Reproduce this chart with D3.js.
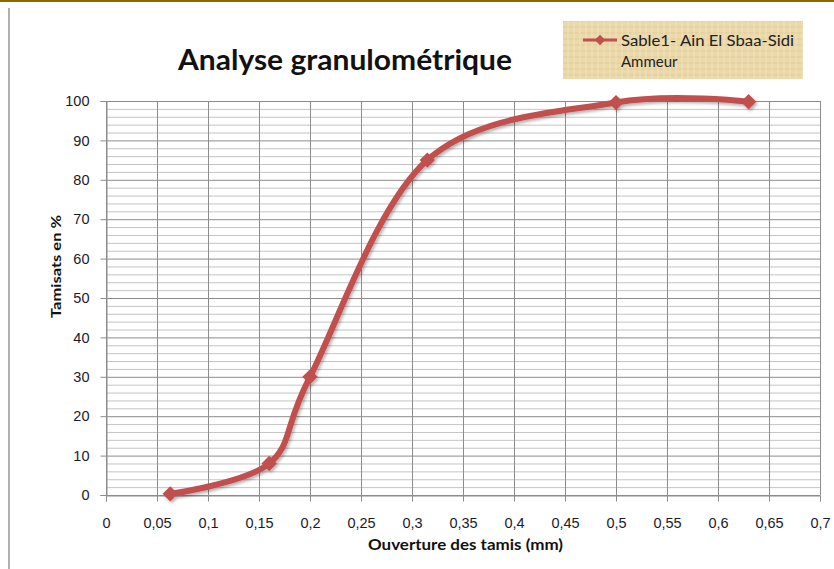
<!DOCTYPE html>
<html><head><meta charset="utf-8">
<script src="https://cdn.jsdelivr.net/npm/d3@7"></script>
<style>html,body{margin:0;padding:0;background:#fff;}svg{display:block;font-family:Lato,"Open Sans",sans-serif;}</style>
</head><body>
<svg id="c" width="834" height="569"></svg>
<script>
const sieveOpenings = [0.063, 0.16, 0.2, 0.315, 0.5, 0.63];
const passingPercent = [0.3, 8, 30, 85, 99.6, 99.8];
const xTicks = [0,0.05,0.1,0.15,0.2,0.25,0.3,0.35,0.4,0.45,0.5,0.55,0.6,0.65,0.7];
const yTicks = [0,10,20,30,40,50,60,70,80,90,100];
const yMinor = d3.range(0, 101, 2);
const seriesName = ["Sable1- Ain El Sbaa-Sidi", "Ammeur"];
const titleText = "Analyse granulométrique";
const xLabel = "Ouverture des tamis (mm)";
const yLabel = "Tamisats  en %";

const svg = d3.select("#c");
const defs = svg.append("defs");
const pat = defs.append("pattern").attr("id","pap").attr("width",12).attr("height",12).attr("patternUnits","userSpaceOnUse");
pat.append("rect").attr("width",12).attr("height",12).attr("fill","#ebd9ab");
pat.append("path").attr("d","M0 3H12M0 9H12").attr("stroke","#e0cc98").attr("stroke-width",1);
pat.append("path").attr("d","M4 0V12M10 0V12").attr("stroke","#f1e2bb").attr("stroke-width",1);
const sh = defs.append("filter").attr("id","sh").attr("x","-10%").attr("y","-10%").attr("width","120%").attr("height","130%");
sh.append("feDropShadow").attr("dx",1.5).attr("dy",2).attr("stdDeviation",1.5).attr("flood-color","#000").attr("flood-opacity",0.3);

svg.append("rect").attr("x",0).attr("y",0).attr("width",834).attr("height",2).attr("fill","#8a6a00");
svg.append("rect").attr("x",8).attr("y",8).attr("width",2).attr("height",561).attr("fill","#b0b0b0");

const x = d3.scaleLinear().domain([0,0.7]).range([106,820]);
const y = d3.scaleLinear().domain([0,100]).range([495,101]);

const g = svg.append("g");
g.selectAll(".mn").data(yMinor.filter(d=>d%10!==0)).join("line")
  .attr("x1",x(0)).attr("x2",x(0.7)).attr("y1",d=>y(d)+0.5).attr("y2",d=>y(d)+0.5)
  .attr("stroke","#c4c4c4").attr("stroke-width",1);
g.selectAll(".mj").data(yTicks).join("line")
  .attr("x1",x(0)).attr("x2",x(0.7)).attr("y1",d=>y(d)+0.5).attr("y2",d=>y(d)+0.5)
  .attr("stroke","#8c8c8c").attr("stroke-width",1);
g.selectAll(".vg").data(xTicks).join("line")
  .attr("x1",d=>x(d)+0.5).attr("x2",d=>x(d)+0.5).attr("y1",y(100)).attr("y2",y(0))
  .attr("stroke","#8c8c8c").attr("stroke-width",1);

const xAxis = d3.axisBottom(x).tickValues(xTicks).tickSize(6).tickPadding(16)
  .tickFormat(d=>String(+d.toFixed(2)).replace(".",","));
const gx = svg.append("g").attr("transform",`translate(0,${y(0)+0.5})`).call(xAxis);
gx.select(".domain").attr("stroke","#8c8c8c");
gx.selectAll(".tick line").attr("stroke","#8c8c8c");
gx.selectAll("text").attr("font-size",14.5).attr("fill","#1a1a2a");
const yAxis = d3.axisLeft(y).tickValues(yTicks).tickSize(6).tickPadding(11);
const gy = svg.append("g").attr("transform",`translate(${x(0)+0.5},0)`).call(yAxis);
gy.select(".domain").attr("stroke","#8c8c8c");
gy.selectAll(".tick line").attr("stroke","#8c8c8c");
gy.selectAll("text").attr("font-size",14.5).attr("fill","#1a1a2a");

const pts = sieveOpenings.map((d,i)=>[d,passingPercent[i]]);
const line = d3.line().x(d=>x(d[0])).y(d=>y(d[1])).curve(d3.curveCardinal.tension(0));
const col = "#c0504d";
const sg = svg.append("g").attr("filter","url(#sh)");
sg.append("path").datum(pts).attr("d",line).attr("fill","none").attr("stroke",col)
  .attr("stroke-width",6).attr("stroke-linecap","round").attr("stroke-linejoin","round");
const diamond = d3.symbol().type(d3.symbolDiamond2).size(150);
sg.selectAll(".mk").data(pts).join("path")
  .attr("transform",d=>`translate(${x(d[0])},${y(d[1])})`).attr("d",diamond).attr("fill",col);

svg.append("text").attr("x",178).attr("y",70)
  .attr("font-size",28).attr("font-weight","bold").attr("fill","#111")
  .attr("textLength",334).attr("lengthAdjust","spacingAndGlyphs").text(titleText);
svg.append("text").attr("x",368).attr("y",550)
  .attr("font-size",15).attr("font-weight","bold").attr("fill","#111")
  .attr("textLength",195).attr("lengthAdjust","spacingAndGlyphs").text(xLabel);
svg.append("text").attr("transform","translate(61,318) rotate(-90)")
  .attr("font-size",14).attr("font-weight","bold").attr("fill","#111")
  .attr("textLength",103).attr("lengthAdjust","spacingAndGlyphs").text(yLabel);

const lg = svg.append("g");
lg.append("rect").attr("x",563).attr("y",21).attr("width",240).attr("height",58).attr("fill","url(#pap)");
lg.append("line").attr("x1",583).attr("x2",617).attr("y1",40).attr("y2",40).attr("stroke",col).attr("stroke-width",3);
lg.append("path").attr("transform","translate(600,40)").attr("d",d3.symbol().type(d3.symbolDiamond2).size(70)).attr("fill",col);
lg.selectAll(".lt").data(seriesName).join("text")
  .attr("x",621).attr("y",(d,i)=>46+i*21).attr("font-size",15).attr("fill","#222")
  .attr("textLength",(d,i)=>i===0?173:null).attr("lengthAdjust","spacingAndGlyphs").text(d=>d);
</script>
</body></html>
